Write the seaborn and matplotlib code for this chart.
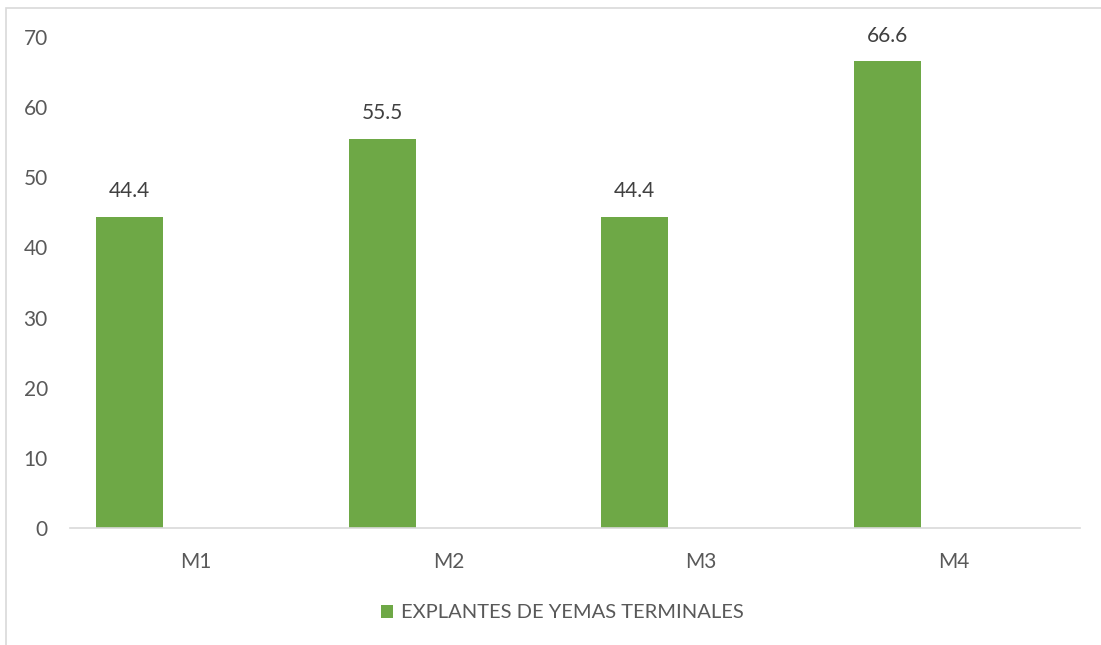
import numpy as np
import pandas as pd
import matplotlib
matplotlib.use("Agg")
import matplotlib.pyplot as plt
import seaborn as sns
from matplotlib.patches import Rectangle

categories = ["M1", "M2", "M3", "M4"]
values = [44.4, 55.5, 44.4, 66.6]
series_name = "EXPLANTES DE YEMAS TERMINALES"
y_ticks = [0, 10, 20, 30, 40, 50, 60, 70]

BAR_COLOR = "#6EA846"
TEXT_COLOR = "#595959"
AXIS_COLOR = "#D9D9D9"
FS = 15

sns.set_theme(style="white")
plt.rcParams["font.family"] = ["Lato", "DejaVu Sans"]

# bars sit left of each category centre, as in a two-series layout
bar_offset = -0.264
bar_width = 0.265
positions = np.arange(len(categories)) + bar_offset
df = pd.DataFrame({"pos": positions, "valor": values, "serie": series_name})

fig = plt.figure(figsize=(11.01, 6.45), dpi=100)
ax = fig.add_axes([70 / 1101, 1 - 528 / 645, 1010 / 1101, (528 - 37) / 645])

sns.barplot(data=df, x="pos", y="valor", hue="serie", native_scale=True,
            width=bar_width, palette=[BAR_COLOR], ax=ax, legend=False,
            saturation=1, edgecolor="none")

ax.set_xlim(-0.5, len(categories) - 0.5)
ax.set_ylim(0, 70)
ax.set_yticks(y_ticks)
ax.set_yticklabels([str(t) for t in y_ticks], fontsize=FS, color=TEXT_COLOR)
ax.set_xticks(np.arange(len(categories)))
ax.set_xticklabels(categories, fontsize=FS, color=TEXT_COLOR)
ax.tick_params(axis="y", length=0, pad=16)
ax.tick_params(axis="x", length=0, pad=17)
ax.set_xlabel("")
ax.set_ylabel("")
for side in ["top", "right", "left"]:
    ax.spines[side].set_visible(False)
ax.spines["bottom"].set_color(AXIS_COLOR)
ax.spines["bottom"].set_linewidth(1.2)
ax.grid(False)

for p, v in zip(positions, values):
    ax.annotate(f"{v:.1f}", xy=(p, v), xytext=(0, 11), textcoords="offset points",
                ha="center", va="bottom", fontsize=FS, color="#404040")

# legend below the plot
handle = Rectangle((0, 0), 1, 1, facecolor=BAR_COLOR, edgecolor="none")
fig.legend([handle], [series_name], loc="center", bbox_to_anchor=(562 / 1101, 1 - 613 / 645),
           frameon=False, fontsize=14.5, labelcolor=TEXT_COLOR, handlelength=0.6,
           handleheight=0.6, handletextpad=0.4)

# chart-area border
fig.add_artist(Rectangle((6 / 1101, -0.1), 1.2, 1 - 8 / 645 + 0.1, transform=fig.transFigure,
                         fill=False, edgecolor=AXIS_COLOR, linewidth=1.2))

fig.savefig("out.png", dpi=100)
